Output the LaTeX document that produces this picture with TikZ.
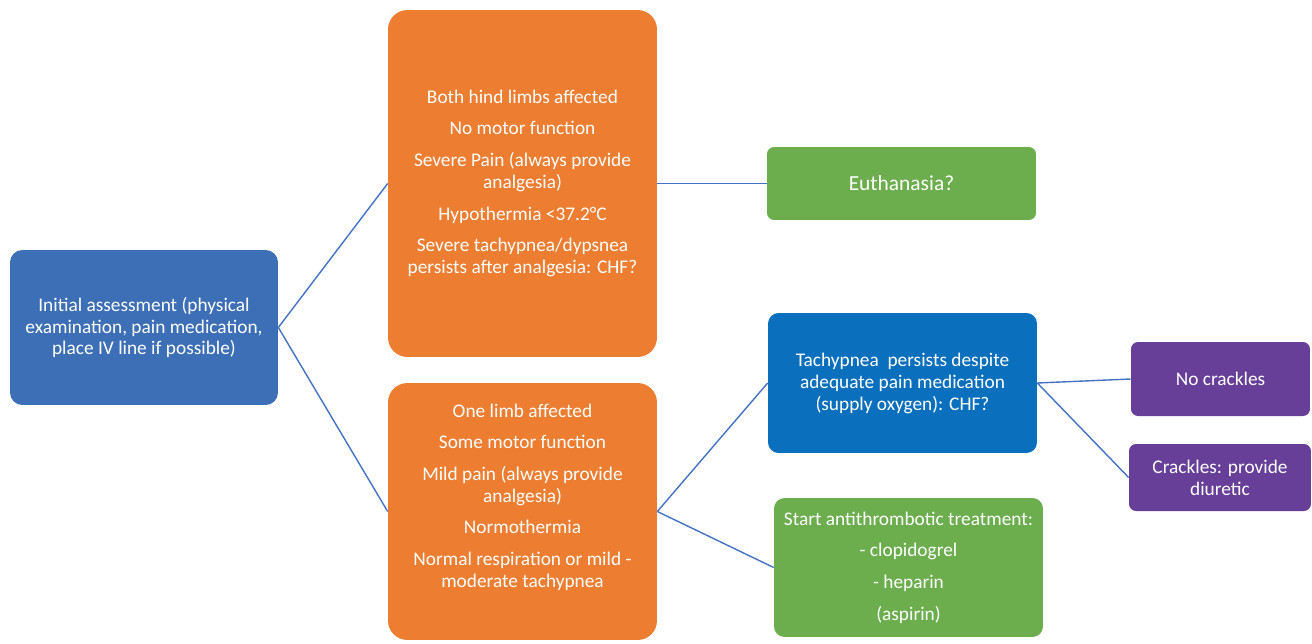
\documentclass[tikz,border=0pt]{standalone}
\usepackage{fontspec}
\setmainfont{Carlito}
\usetikzlibrary{positioning}
\definecolor{AssessBlue}{HTML}{3D6FB7}
\definecolor{ChfBlue}{HTML}{0A70BE}
\definecolor{LimbOrange}{HTML}{ED7D31}
\definecolor{PlanGreen}{HTML}{6CAE4E}
\definecolor{CrackPurple}{HTML}{673F99}
\definecolor{LinkBlue}{HTML}{4472C4}

\begin{document}
\begin{tikzpicture}[x=0.02cm,y=-0.02cm,
    font=\fontsize{11}{12.5}\selectfont,
    box/.style={text=white,align=center,inner sep=2pt,rounded corners=7pt},
    link/.style={draw=LinkBlue,line width=0.8pt}]
      \useasboundingbox (0,0) rectangle (1312,643);
      \node[box,fill=AssessBlue,minimum width=5.36cm,minimum height=3.1cm] (init) at (144,327.5) {Initial assessment (physical\\examination, pain medication,\\place IV line if possible)};
      \node[box,fill=LimbOrange,rounded corners=11pt,minimum width=5.38cm,minimum height=6.94cm] (severe) at (522.5,183.5) {Both hind limbs affected\\[5.5pt]No motor function\\[5.5pt]Severe Pain (always provide\\analgesia)\\[5.5pt]Hypothermia <37.2°C\\[5.5pt]Severe tachypnea/dypsnea\\persists after analgesia: CHF?};
      \node[box,fill=LimbOrange,rounded corners=11pt,minimum width=5.38cm,minimum height=5.14cm] (mild) at (522.5,511.5) {One limb affected\\[5.5pt]Some motor function\\[5.5pt]Mild pain (always provide\\analgesia)\\[5.5pt]Normothermia\\[5.5pt]Normal respiration or mild -\\moderate tachypnea\\[5.6pt]};
      \node[box,fill=PlanGreen,rounded corners=4pt,font=\fontsize{12.2}{14}\selectfont,minimum width=5.38cm,minimum height=1.46cm] (euth) at (901.5,183.5) {Euthanasia?};
      \node[box,fill=ChfBlue,rounded corners=6pt,minimum width=5.38cm,minimum height=2.8cm] (chf) at (902.5,383) {Tachypnea\ \ persists despite\\adequate pain medication\\(supply oxygen): CHF?};
      \node[box,fill=PlanGreen,rounded corners=6pt,minimum width=5.38cm,minimum height=2.78cm] (anti) at (908.5,567.5) {Start antithrombotic treatment:\\[5.5pt]- clopidogrel\\[5.5pt]- heparin\\[5.5pt](aspirin)};
      \node[box,fill=CrackPurple,rounded corners=4pt,minimum width=3.58cm,minimum height=1.48cm] (nocrack) at (1220.5,379) {No crackles};
      \node[box,fill=CrackPurple,rounded corners=4pt,minimum width=3.64cm,minimum height=1.34cm] (crack) at (1220,477.5) {Crackles: provide\\diuretic};
      \draw[link] (init.east) -- (severe.west);
      \draw[link] (init.east) -- (mild.west);
      \draw[link] (severe.east) -- (euth.west);
      \draw[link] (mild.east) -- (chf.west);
      \draw[link] (mild.east) -- (anti.west);
      \draw[link] (chf.east) -- (nocrack.west);
      \draw[link] (chf.east) -- (crack.west);
    \end{tikzpicture}
\end{document}
